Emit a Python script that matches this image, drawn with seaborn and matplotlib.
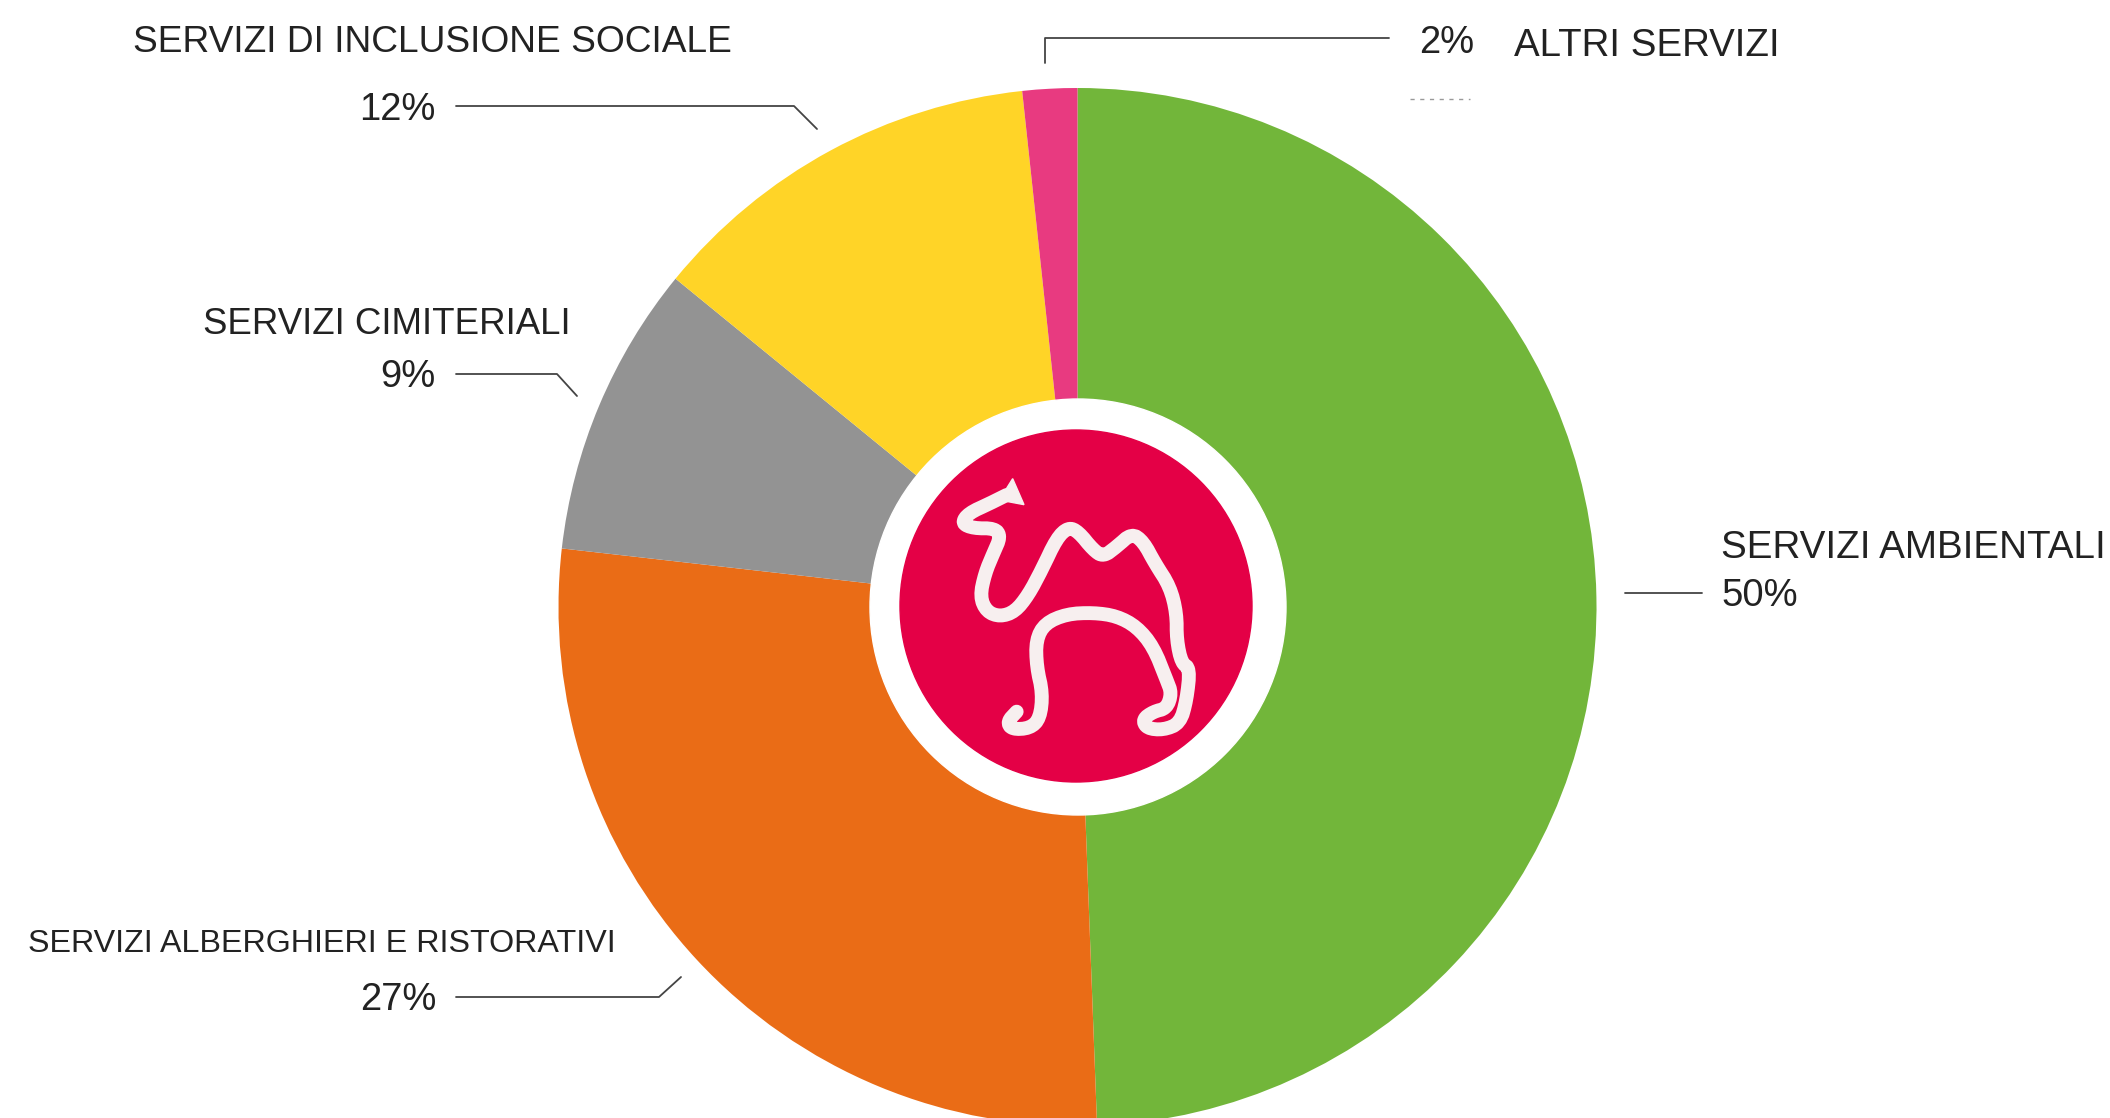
import numpy as np
import seaborn as sns
import matplotlib.pyplot as plt
from matplotlib.patches import Circle, Polygon

W, H = 2110, 1118

categories = ['SERVIZI AMBIENTALI', 'SERVIZI ALBERGHIERI E RISTORATIVI', 'SERVIZI CIMITERIALI',
              'SERVIZI DI INCLUSIONE SOCIALE', 'ALTRI SERVIZI']
# slice sizes as drawn in the picture (they differ a little from the printed numbers)
drawn_shares = [49.4, 27.4, 9.1, 12.4, 1.7]
printed_labels = ['50%', '27%', '9%', '12%', '2%']
colors = ['#72B63A', '#EA6C16', '#939393', '#FFD427', '#E83A80']

sns.set_theme(style='white')
plt.rcParams['font.family'] = ['Liberation Sans', 'DejaVu Sans']
TXT = '#222222'
LINE = '#444444'


def flip(y):
    return H - y


def smooth(pts, rounds=2):
    # corner cutting, only to round off the hand traced logo outline
    for _ in range(rounds):
        q = 0.75 * pts[:-1] + 0.25 * pts[1:]
        r = 0.25 * pts[:-1] + 0.75 * pts[1:]
        pts = np.vstack([pts[0], np.column_stack([q, r]).reshape(-1, 2), pts[-1]])
    return pts


fig = plt.figure(figsize=(W / 100, H / 100), dpi=100)
ax = fig.add_axes([0, 0, 1, 1])

ax.pie(drawn_shares, colors=sns.color_palette(colors), startangle=90, counterclock=False,
       center=(1077.5, flip(607)), radius=519, frame=True,
       wedgeprops={'edgecolor': 'none', 'linewidth': 0})
ax.set_xlim(0, W)
ax.set_ylim(0, H)
ax.set_aspect('equal')
ax.axis('off')

# centre logo
ax.add_patch(Circle((1078, flip(607)), 208, color='white', zorder=5))
ax.add_patch(Circle((1076, flip(606)), 176, color='#E40046', zorder=6))

camel = np.array([
    (440, 285), (390, 310), (325, 340), (305, 370), (340, 385), (405, 385),
    (422, 410), (400, 460), (375, 520), (360, 590), (380, 635), (420, 650), (465, 635), (505, 585),
    (545, 510), (590, 415), (625, 382), (655, 395), (700, 450), (730, 470), (770, 440), (815, 400),
    (850, 425), (885, 490), (930, 560), (950, 640), (950, 720), (965, 790), (990, 805), (980, 900),
    (960, 970), (910, 990), (860, 985), (848, 958), (880, 935), (920, 925), (935, 880), (920, 840),
    (880, 740), (830, 680), (770, 648), (700, 638), (620, 642), (555, 670), (528, 720), (530, 800),
    (548, 880), (540, 955), (510, 985), (455, 988), (442, 965), (470, 935),
], dtype=float)
line = smooth(camel)
ax.plot(860 + line[:, 0] / 3, flip(400 + line[:, 1] / 3), color='#F7EFEF', lw=10,
        solid_joinstyle='round', solid_capstyle='round', zorder=7)
ear = np.array([(492, 314), (458, 236), (418, 300)], dtype=float)
ax.add_patch(Polygon(np.column_stack([860 + ear[:, 0] / 3, flip(400 + ear[:, 1] / 3)]),
                     color='#F7EFEF', zorder=7))

# leader lines
leaders = [
    [(1045, 63), (1045, 38), (1389, 38)],
    [(456, 106), (794, 106), (817, 129)],
    [(456, 374), (557, 374), (577, 396)],
    [(456, 997), (659, 997), (681, 977)],
    [(1625, 593), (1702, 593)],
]
for pts in leaders:
    xs, ys = zip(*pts)
    ax.plot(xs, [flip(y) for y in ys], color=LINE, lw=1.3)
ax.plot([1410, 1470], [flip(99), flip(99)], color='#999999', lw=1, ls=(0, (3, 4)))

# category names
name_pos = [(1721, 548, 27.8), (28, 944, 23.2), (203, 325, 26.4), (133, 43, 26.7), (1514, 46, 27.7)]
for name, (x, y, fs) in zip(categories, name_pos):
    ax.text(x, flip(y), name, ha='left', va='center', fontsize=fs, color=TXT)

# printed percentages
pct_pos = [(1721, 596, 'left'), (436, 1000, 'right'), (436, 377, 'right'), (436, 110, 'right'), (1474, 43, 'right')]
for label, (x, y, ha) in zip(printed_labels, pct_pos):
    ax.text(x, flip(y), label, ha=ha, va='center', fontsize=27.5, color=TXT)

fig.savefig('out.png', dpi=100, facecolor='white')
